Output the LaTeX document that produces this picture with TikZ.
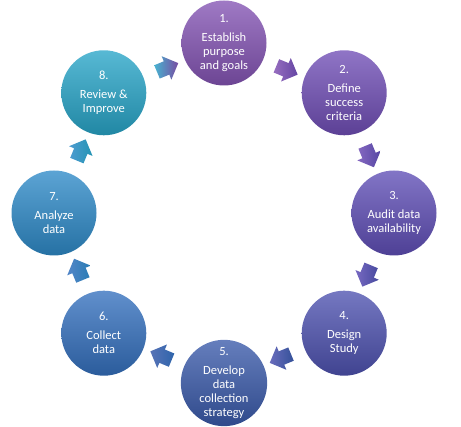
\documentclass[tikz,border=0pt]{standalone}
\usepackage{fontspec}
\setmainfont{Carlito}
\usetikzlibrary{shapes.arrows,calc}
\definecolor{c1}{RGB}{132,84,180}
\definecolor{c2}{RGB}{112,78,182}
\definecolor{c3}{RGB}{95,78,182}
\definecolor{c4}{RGB}{78,82,176}
\definecolor{c5}{RGB}{58,90,170}
\definecolor{c6}{RGB}{52,112,190}
\definecolor{c7}{RGB}{46,138,200}
\definecolor{c8}{RGB}{40,165,200}
\begin{document}
\begin{tikzpicture}[x=1pt,y=1pt,
  stepcircle/.style={circle, minimum size=85pt, inner sep=0pt, align=center,
    text=white, font=\fontsize{12.5}{14}\selectfont},
  flowarrow/.style={single arrow, minimum height=23pt, inner xsep=0pt, inner ysep=7pt,
    single arrow head extend=5.5pt}
]
\useasboundingbox (0,0) rectangle (461,427);
\coordinate (ctr) at (224,214);
\foreach \i/\txt in {1/{Establish\\purpose\\and goals},2/{Define\\success\\criteria},
  3/{Audit data\\availability},4/{Design\\Study},5/{Develop\\data\\collection\\strategy},
  6/{Collect\\data},7/{Analyze\\data},8/{Review \&\\Improve}}{
  \pgfmathsetmacro{\ang}{90-45*(\i-1)}
  \node[stepcircle, top color=c\i!78!white, middle color=c\i, bottom color=c\i!82!black]
    (s\i) at ($(ctr)+(\ang:170)$) {\i.\\[5pt]\txt};
}
\foreach \i/\j in {1/2,2/3,3/4,4/5,5/6,6/7,7/8,8/1}{
  \pgfmathsetmacro{\ang}{90-45*(\i-1)-22.5}
  \pgfmathsetmacro{\dir}{\ang-90}
  \node[flowarrow, rotate=\dir, left color=c\i!85!white, right color=c\j!90!black]
    (a\i) at ($(ctr)+(\ang:156)$) {};
}
\end{tikzpicture}
\end{document}
